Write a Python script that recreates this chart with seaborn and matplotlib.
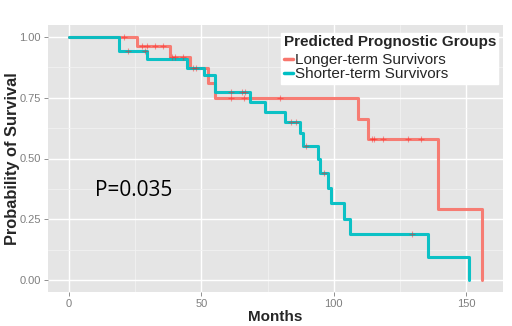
import numpy as np
import pandas as pd
import seaborn as sns
import matplotlib
matplotlib.use("Agg")
import matplotlib.pyplot as plt
from matplotlib.lines import Line2D

# ---- data ----
groups = ["Longer-term Survivors", "Shorter-term Survivors"]

long_time = [0, 25.7, 38.3, 45.8, 52.5, 55.3, 109.1, 112.8, 139.4, 155.9]
long_surv = [1.0, 0.963, 0.919, 0.871, 0.81, 0.748, 0.661, 0.58, 0.291, 0.0]

short_time = [0, 19.0, 29.5, 44.8, 50.9, 55.3, 68.3, 73.9, 81.4, 87.2, 88.5,
              94.2, 94.6, 97.7, 99.1, 104.0, 106.2, 135.4, 150.8]
short_surv = [1.0, 0.942, 0.911, 0.874, 0.844, 0.775, 0.731, 0.692, 0.651, 0.603,
              0.551, 0.496, 0.442, 0.377, 0.316, 0.252, 0.189, 0.096, 0.0]

long_cens_time = [21.0, 27.6, 29.7, 32.6, 35.5, 38.9, 40.2, 43.1, 46.9, 48.1,
                  61.4, 66.3, 79.8, 114.4, 115.3, 118.6, 127.9, 132.9]
long_cens_surv = [1.0, 0.963, 0.963, 0.963, 0.963, 0.919, 0.919, 0.919, 0.871, 0.871,
                  0.748, 0.748, 0.748, 0.58, 0.58, 0.58, 0.58, 0.58]

short_cens_time = [22.2, 28.6, 61.2, 65.4, 66.6, 83.9, 85.8, 89.6, 96.4, 129.5]
short_cens_surv = [0.942, 0.942, 0.775, 0.775, 0.775, 0.651, 0.651, 0.551, 0.442, 0.189]

p_text = "P=0.035"
x_ticks = [0, 50, 100, 150]
y_ticks = [0.0, 0.25, 0.50, 0.75, 1.00]
y_ticklabels = ["0.00", "0.25", "0.50", "0.75", "1.00"]

colors = {"Longer-term Survivors": "#F8766D", "Shorter-term Survivors": "#00BFC4"}

curves = pd.concat([
    pd.DataFrame({"Months": long_time, "Surv": long_surv, "Group": groups[0]}),
    pd.DataFrame({"Months": short_time, "Surv": short_surv, "Group": groups[1]}),
], ignore_index=True)
cens = pd.DataFrame({
    "Months": long_cens_time + short_cens_time,
    "Surv": long_cens_surv + short_cens_surv,
})

# ---- plot ----
sns.set_theme(style="darkgrid")
plt.rcParams["font.family"] = ["Liberation Sans", "DejaVu Sans"]

fig = plt.figure(figsize=(5.12, 3.26), dpi=100)
ax = fig.add_axes([48/512, 1 - 292/326, (503-48)/512, (292-25)/326])
ax.set_facecolor("#E5E5E5")

sns.lineplot(data=curves, x="Months", y="Surv", hue="Group", palette=colors,
             drawstyle="steps-post", linewidth=2.2, alpha=0.95, legend=False,
             ax=ax, estimator=None, sort=False)
sns.scatterplot(data=cens, x="Months", y="Surv", marker="+", color="#FF2020",
                alpha=0.45, s=16, linewidth=0.8, ax=ax, legend=False, zorder=5)

ax.set_xlim(-7.8, 163.8)
ax.set_ylim(-0.05, 1.05)
ax.set_xticks(x_ticks)
ax.set_yticks(y_ticks)
ax.set_yticklabels(y_ticklabels)
ax.set_xticks([25, 75, 125], minor=True)
ax.set_yticks([0.125, 0.375, 0.625, 0.875], minor=True)
ax.grid(which="major", color="white", linewidth=1.0)
ax.grid(which="minor", color="#F2F2F2", linewidth=0.6)
for s in ax.spines.values():
    s.set_visible(False)
ax.tick_params(axis="both", which="major", length=3, width=0.6, color="#7F7F7F",
               labelcolor="#7F7F7F", labelsize=8, pad=2, bottom=True, left=True)
ax.tick_params(axis="both", which="minor", length=0)

ax.set_xlabel("Months", fontsize=11, fontweight="bold", labelpad=1)
ax.set_ylabel("Probability of Survival", fontsize=11.8, fontweight="bold", labelpad=0)

ax.text(10, 0.347, p_text, fontsize=15, family=["Open Sans", "DejaVu Sans"],
        ha="left", va="baseline", color="black")

handles = [Line2D([0], [0], color=colors[g], lw=2.5) for g in groups]
leg = ax.legend(handles, groups, title="Predicted Prognostic Groups",
                loc="upper right", bbox_to_anchor=(0.99, 0.97), fontsize=11,
                title_fontproperties={"weight": "bold", "size": 11},
                frameon=True, fancybox=False, framealpha=1, facecolor="white",
                edgecolor="white", borderpad=0.15, handlelength=0.6,
                handletextpad=0.15, labelspacing=0.0, borderaxespad=0)
leg._legend_box.align = "left"
leg._legend_box.sep = 3

fig.savefig("out.png", dpi=100)
